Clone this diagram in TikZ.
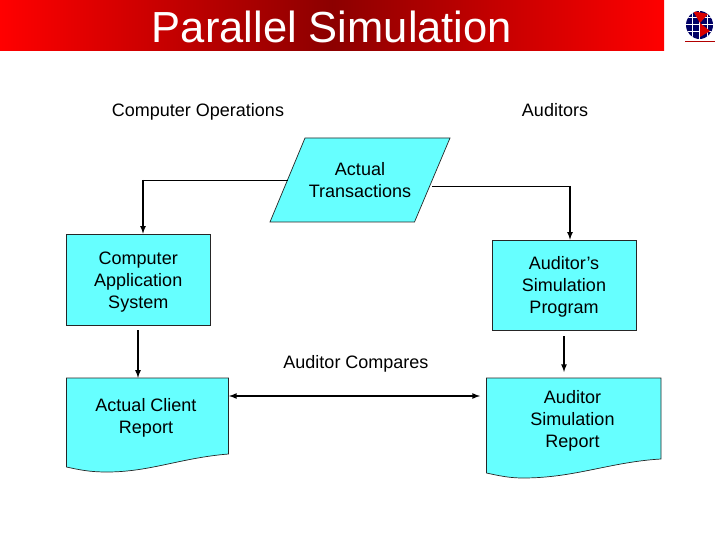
\documentclass[tikz,border=0pt]{standalone}
\usepackage{fontspec}
\setmainfont{Liberation Sans}
\newcommand{\lowertext}[2]{\raisebox{-#1}[\height][\depth]{\begin{tabular}{@{}c@{}}#2\end{tabular}}}

\begin{document}
\begin{tikzpicture}[x=1pt, y=-1pt,
        sarr/.style ={-latex, line width=1.6pt},
        arr/.style  ={latex-latex, line width=1.6pt},
        thinl/.style={line width=0.9pt},
        lbl/.style  ={font=\fontsize{18}{22}\selectfont, align=center, text=black},
        flowbox/.style={lbl, draw=black!85, line width=0.7pt, fill=flowcyan, inner sep=0pt},
        docbox/.style ={draw=black!85, line width=0.7pt, fill=flowcyan},]
    \definecolor{flowcyan}{RGB}{102,255,255}
    \useasboundingbox (0,0) rectangle (720,540);

    % title band
    \node[minimum width=664pt, minimum height=50pt, inner sep=0pt,
        left color=red, right color=red, middle color=red!55!black,
        text=white, font=\fontsize{43.5}{44}\selectfont] (title) at (332,26)
        {\raisebox{-1pt}[\height][\depth]{Parallel Simulation}};

    % logo
    \begin{scope}
        \clip (699.5,25) ellipse (13.5pt and 14pt);
        \fill[blue!40!black] (684,9) rectangle (715,41);
        \foreach \yy in {17,24,31}
            \draw[white, line width=0.4pt] (684,\yy) -- (715,\yy);
        \foreach \xx in {692,699,707}
            \draw[white, line width=0.4pt] (\xx,9) -- (\xx,41);
        \fill[red!85!black] (693,11) -- (708,14) -- (700,23) -- cycle;
        \fill[red!85!black] (700,23) -- (710,31) -- (700,37) -- cycle;
    \end{scope}
    \coordinate (logoL) at (685,41);
    \coordinate (logoR) at (715,41);
    \draw[red!70!black, line width=0.6pt] (logoL) -- (logoR);

    % headings
    \node[lbl] (ops) at (198,112) {Computer Operations};
    \node[lbl] (aud) at (555,110) {Auditors};
    \node[lbl] (cmp) at (356,364) {Auditor Compares};

    % parallelogram and document outlines
    \path[docbox] (305,138) -- (450,138) -- (414.5,222) -- (270,222) -- cycle;
    \path[docbox] (66.5,378) -- (228.5,378) -- (228.5,454)
        .. controls (180,458) and (150,472) .. (107,472)
        .. controls (90,472) and (80,470) .. (66.5,467) -- cycle;
    \path[docbox] (486.5,378) -- (661,378) -- (661,459)
        .. controls (610,462) and (575,478) .. (523,478)
        .. controls (510,478) and (500,476) .. (486.5,473) -- cycle;

    \node[lbl] (trans) at (360,180) {Actual\\Transactions};
    \node[flowbox, minimum width=144.5pt, minimum height=91pt] (app) at (138.25,279.5)
        {\lowertext{2.5pt}{Computer\\Application\\System}};
    \node[flowbox, minimum width=144pt, minimum height=90pt] (prog) at (564,285)
        {\lowertext{2pt}{Auditor’s\\Simulation\\Program}};
    \node[lbl, minimum height=76pt, inner sep=0pt] (client) at (146,416)
        {\lowertext{2.5pt}{Actual Client\\Report}};
    \node[lbl, minimum height=82pt, inner sep=0pt] (audrep) at (572.5,419)
        {\lowertext{2.5pt}{Auditor\\Simulation\\Report}};

    % free ends of the connectors
    \coordinate (transL) at (287.5,180);
    \coordinate (transR) at (432,186);
    \coordinate (appin) at (143,180);
    \coordinate (progin) at (570,186);
    \coordinate (appout) at (138,330);
    \coordinate (progout) at (564,336);
    \coordinate (repin) at (564,372);
    \coordinate (cmpL) at (229,396);
    \coordinate (cmpR) at (480,396);

    \draw[thinl] (transL) -- (appin);
    \draw[thinl] (transR) -- (progin);
    \draw[sarr] (appin) -- (appin |- app.north);
    \draw[sarr] (progin) -- (progin |- prog.north);
    \draw[sarr] (appout) -- (appout |- client.north);
    \draw[sarr] (progout) -- (repin);
    \draw[arr] (cmpL) -- (cmpR);
\end{tikzpicture}
\end{document}
